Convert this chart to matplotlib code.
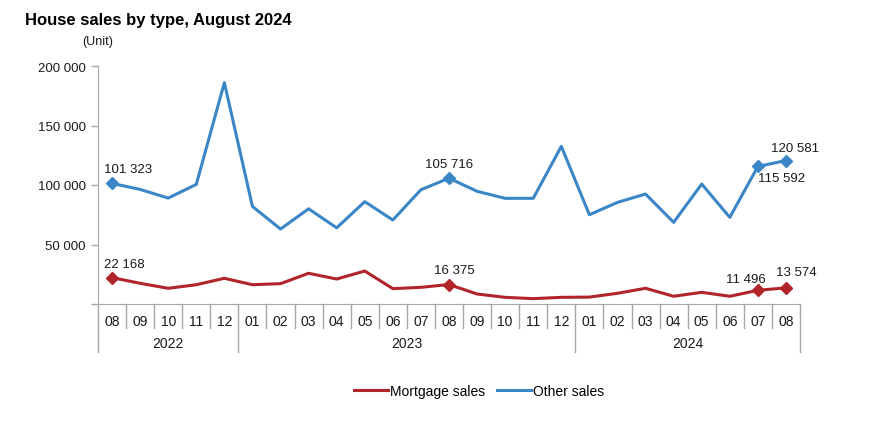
import matplotlib
matplotlib.use("Agg")
import matplotlib.pyplot as plt
from matplotlib.transforms import blended_transform_factory

months = ["08", "09", "10", "11", "12",
          "01", "02", "03", "04", "05", "06", "07", "08", "09", "10", "11", "12",
          "01", "02", "03", "04", "05", "06", "07", "08"]
years = ["2022", "2023", "2024"]
year_counts = [5, 12, 8]

mortgage = [22168, 17400, 13200, 16200, 21600,
            16200, 17100, 25800, 21000, 27700, 12900, 14000, 16375, 8400, 5600, 4500, 5600,
            5800, 9000, 13200, 6500, 9800, 6500, 11496, 13574]
other = [101323, 96300, 89000, 100500, 186000,
         82000, 63000, 80000, 64000, 86000, 70600, 96000, 105716, 94700, 88800, 88800, 132500,
         75000, 85400, 92400, 68600, 100800, 72800, 115592, 120581]

labelled = [0, 12, 23, 24]
yticks = [0, 50000, 100000, 150000, 200000]

plt.rcParams['font.family'] = ['Liberation Sans', 'DejaVu Sans']

RED = "#B0242A"
BLUE = "#3A86C6"
GRID = "#A6A6A6"

fig = plt.figure(figsize=(8.91, 4.27), dpi=100)
ax = fig.add_axes([98 / 891, 1 - 305 / 427, 702 / 891, 238 / 427])

x = list(range(len(months)))
ax.plot(x, mortgage, color=RED, lw=2.2, label="Mortgage sales", zorder=3)
ax.plot(x, other, color=BLUE, lw=2.2, label="Other sales", zorder=3)
ax.plot([x[i] for i in labelled], [mortgage[i] for i in labelled], ls="none",
        marker="D", ms=6, color=RED, zorder=4)
ax.plot([x[i] for i in labelled], [other[i] for i in labelled], ls="none",
        marker="D", ms=6, color=BLUE, zorder=4)

def fmt(v):
    return f"{v:,}".replace(",", " ")

# data labels: (dx, dy) offsets in pixels
offsets_other = {0: (16, 14), 12: (0, 14), 23: (24, -12), 24: (9, 13)}
offsets_mort = {0: (12, 14), 12: (5, 15), 23: (-12, 11), 24: (10, 16)}
for i, (dx, dy) in offsets_other.items():
    ax.annotate(fmt(other[i]), (x[i], other[i]), xytext=(dx, dy), textcoords="offset pixels",
                ha="center", va="center", fontsize=9.5, color="#1a1a1a")
for i, (dx, dy) in offsets_mort.items():
    ax.annotate(fmt(mortgage[i]), (x[i], mortgage[i]), xytext=(dx, dy), textcoords="offset pixels",
                ha="center", va="center", fontsize=9.5, color="#1a1a1a")

ax.set_xlim(-0.5, len(months) - 0.5)
ax.set_ylim(0, 200000)
ax.set_yticks(yticks)
ax.set_yticklabels(["" if v == 0 else fmt(v) for v in yticks], fontsize=9.5, color="#1a1a1a")
ax.tick_params(axis="y", direction="out", length=5, color=GRID, width=1, pad=4)
ax.set_xticks([])
for s in ["top", "right"]:
    ax.spines[s].set_visible(False)
ax.spines["left"].set_color(GRID)
ax.spines["bottom"].set_color(GRID)

# category axis: month cells and year groups
tr = blended_transform_factory(ax.transData, ax.transAxes)
month_depth = -24 / 238
year_depth = -48 / 238
boundaries = []
acc = 0
for c in year_counts:
    boundaries.append(acc)
    acc += c
boundaries.append(acc)
for k in range(len(months) + 1):
    xb = k - 0.5
    depth = year_depth if k in boundaries else month_depth
    ax.plot([xb, xb], [0, depth], transform=tr, color=GRID, lw=1, clip_on=False)
for i, m in enumerate(months):
    ax.text(i, -16.5 / 238, m, transform=tr, ha="center", va="center", fontsize=10, color="#1a1a1a")
for j, yname in enumerate(years):
    center = (boundaries[j] + boundaries[j + 1] - 1) / 2
    ax.text(center, -39 / 238, yname, transform=tr, ha="center", va="center", fontsize=10, color="#1a1a1a")

fig.text(25 / 891, 1 - 20 / 427, "House sales by type, August 2024", fontsize=12,
         fontweight="bold", ha="left", va="center", color="black")
fig.text(98 / 891, 1 - 42 / 427, "(Unit)", fontsize=9, ha="center", va="center", color="#1a1a1a")

fig.legend(loc="center", bbox_to_anchor=(479 / 891, 1 - 392 / 427), ncol=2, frameon=False,
           fontsize=10, handlelength=2.45, handletextpad=0.1, columnspacing=0.9)

fig.savefig("out.png", dpi=100)
